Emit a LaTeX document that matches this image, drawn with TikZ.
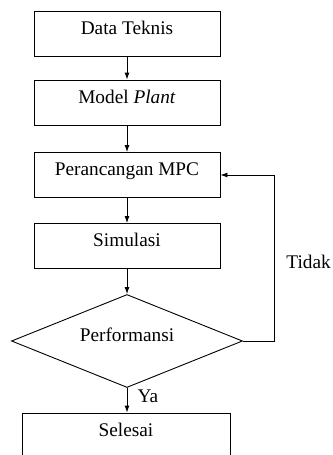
\documentclass[tikz,border=0pt]{standalone}
\usepackage{fontspec}
\setmainfont{Liberation Serif}
\usetikzlibrary{arrows.meta}
\usetikzlibrary{shapes.geometric}
\tikzset{
	stepbox/.style={draw, rectangle, minimum width=186pt, minimum height=45pt, inner sep=0pt, text height=13pt, text depth=11.5pt},
	decision/.style={draw, diamond, aspect=2.5, minimum width=231pt, minimum height=93pt, inner sep=0pt, text height=13pt, text depth=13pt},
	flow/.style={-{Latex[length=7pt,width=5pt]}},
}

\begin{document}
\begin{tikzpicture}[x=1pt, y=-1pt, line width=0.9pt, font=\fontsize{19.3}{23}\selectfont]
	\useasboundingbox (0,0) rectangle (332,455);
	\node [stepbox] (data) at (127, 33.5) {Data Teknis};
	\node [stepbox] (plant) at (127, 102.5) {Model \textit{Plant}};
	\node [stepbox] (mpc) at (127, 175) {Perancangan MPC};
	\node [stepbox] (sim) at (127, 246) {Simulasi};
	\node [decision] (perf) at (127, 341) {Performansi};
	\node [stepbox, minimum width=208pt] (done) at (126, 435.5) {Selesai};
	\coordinate (back) at (274, 341);
	\draw [flow] (data) -- (plant);
	\draw [flow] (plant) -- (mpc);
	\draw [flow] (mpc) -- (sim);
	\draw [flow] (sim) -- (perf);
	\draw [flow] (perf) -- (perf.south |- done.north);
	\draw [flow] (perf.east) -- (back) |- (mpc.east);
	\node [anchor=west, inner sep=0pt] (tidak) at (286, 261.5) {Tidak};
	\node [inner sep=0pt] (ya) at (148, 396) {Ya};
\end{tikzpicture}
\end{document}
